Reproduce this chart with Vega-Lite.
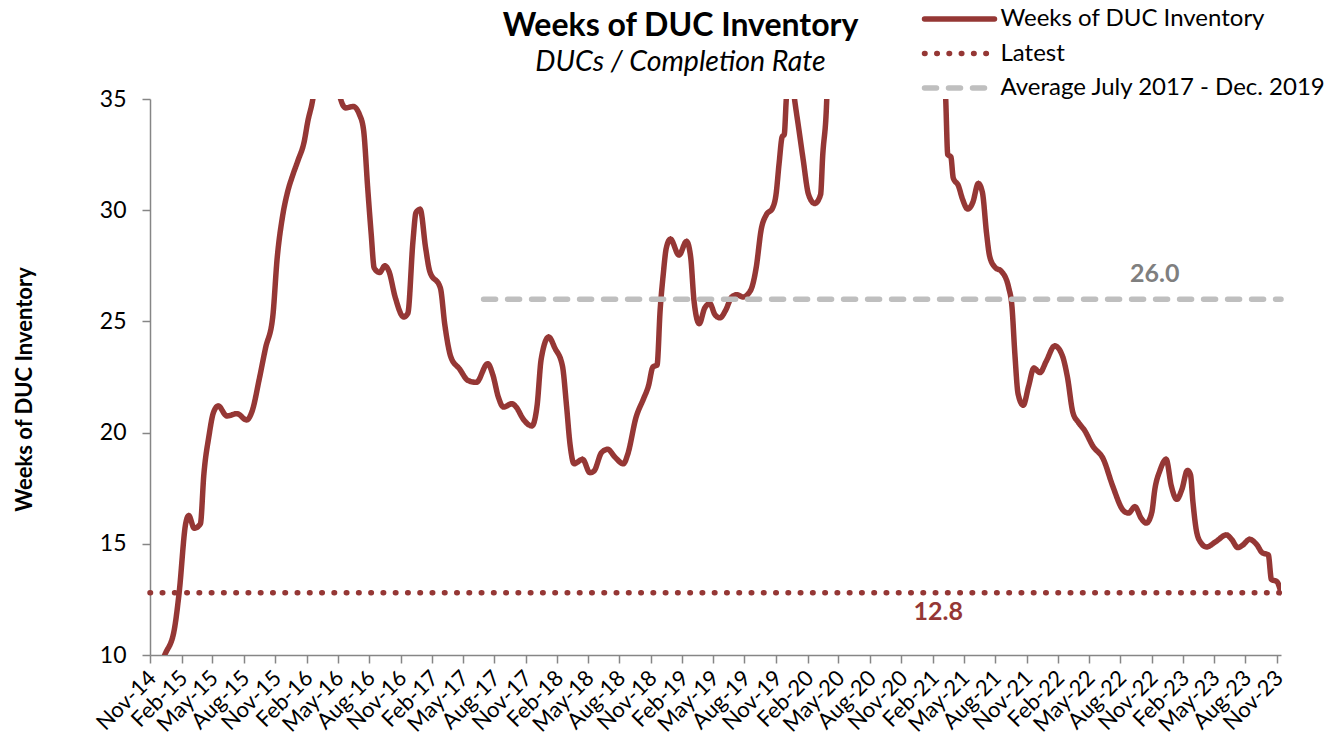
{
  "$schema": "https://vega.github.io/schema/vega-lite/v6.json",
  "width": 1131,
  "height": 556,
  "autosize": {"type": "none"},
  "padding": {"left": 150, "top": 99, "right": 48, "bottom": 96},
  "background": "white",
  "config": {
    "font": "Lato",
    "view": {"stroke": null},
    "legend": {
      "title": null,
      "orient": "none",
      "legendX": 795,
      "legendY": -94.5,
      "direction": "vertical",
      "symbolType": "M-3,0H3",
      "symbolSize": 544,
      "symbolStrokeWidth": 5.5,
      "labelFont": "Lato",
      "labelFontSize": 24,
      "labelColor": "black",
      "labelOffset": 26.5,
      "labelLimit": 500,
      "rowPadding": 7.5,
      "padding": 0
    }
  },
  "title": {
    "text": "Weeks of DUC Inventory",
    "subtitle": "DUCs / Completion Rate",
    "font": "Lato",
    "subtitleFont": "Lato",
    "fontSize": 32,
    "fontWeight": "bold",
    "subtitleFontSize": 28.5,
    "subtitleFontStyle": "italic",
    "color": "black",
    "subtitleColor": "black",
    "anchor": "middle",
    "frame": "group",
    "dx": -35,
    "offset": -73,
    "subtitlePadding": 5
  },
  "datasets": {
    "duc": [
      {"date": "2014-11-01", "weeks": 8.3},
      {"date": "2014-11-22", "weeks": 9.1},
      {"date": "2014-12-14", "weeks": 10.0},
      {"date": "2015-01-10", "weeks": 11.07},
      {"date": "2015-01-25", "weeks": 12.8},
      {"date": "2015-02-13", "weeks": 15.9},
      {"date": "2015-02-22", "weeks": 16.27},
      {"date": "2015-03-10", "weeks": 15.7},
      {"date": "2015-03-28", "weeks": 15.9},
      {"date": "2015-04-07", "weeks": 18.1},
      {"date": "2015-04-22", "weeks": 19.85},
      {"date": "2015-05-05", "weeks": 20.9},
      {"date": "2015-05-19", "weeks": 21.2},
      {"date": "2015-06-13", "weeks": 20.75},
      {"date": "2015-07-13", "weeks": 20.85},
      {"date": "2015-08-10", "weeks": 20.57},
      {"date": "2015-08-26", "weeks": 20.97},
      {"date": "2015-09-16", "weeks": 22.43},
      {"date": "2015-10-04", "weeks": 23.8},
      {"date": "2015-10-25", "weeks": 25.2},
      {"date": "2015-11-07", "weeks": 27.85},
      {"date": "2015-11-22", "weeks": 29.66},
      {"date": "2015-12-07", "weeks": 30.8},
      {"date": "2015-12-22", "weeks": 31.56},
      {"date": "2016-01-07", "weeks": 32.25},
      {"date": "2016-01-25", "weeks": 33.1},
      {"date": "2016-02-04", "weeks": 33.97},
      {"date": "2016-02-19", "weeks": 35.0},
      {"date": "2016-03-10", "weeks": 37.5},
      {"date": "2016-04-07", "weeks": 38.5},
      {"date": "2016-04-28", "weeks": 36.5},
      {"date": "2016-05-10", "weeks": 35.0},
      {"date": "2016-05-25", "weeks": 34.6},
      {"date": "2016-06-16", "weeks": 34.66},
      {"date": "2016-07-04", "weeks": 34.3},
      {"date": "2016-07-16", "weeks": 33.6},
      {"date": "2016-07-28", "weeks": 31.0},
      {"date": "2016-08-07", "weeks": 28.97},
      {"date": "2016-08-16", "weeks": 27.4},
      {"date": "2016-09-01", "weeks": 27.2},
      {"date": "2016-09-16", "weeks": 27.5},
      {"date": "2016-09-28", "weeks": 27.25},
      {"date": "2016-10-16", "weeks": 26.1},
      {"date": "2016-11-10", "weeks": 25.2},
      {"date": "2016-11-22", "weeks": 25.36},
      {"date": "2016-12-07", "weeks": 28.6},
      {"date": "2016-12-16", "weeks": 29.9},
      {"date": "2016-12-28", "weeks": 30.04},
      {"date": "2017-01-13", "weeks": 28.3},
      {"date": "2017-01-25", "weeks": 27.25},
      {"date": "2017-02-25", "weeks": 26.5},
      {"date": "2017-03-10", "weeks": 24.84},
      {"date": "2017-03-28", "weeks": 23.38},
      {"date": "2017-04-22", "weeks": 22.86},
      {"date": "2017-05-16", "weeks": 22.35},
      {"date": "2017-06-10", "weeks": 22.26},
      {"date": "2017-07-13", "weeks": 23.1},
      {"date": "2017-07-28", "weeks": 22.6},
      {"date": "2017-08-13", "weeks": 21.6},
      {"date": "2017-08-28", "weeks": 21.15},
      {"date": "2017-09-22", "weeks": 21.3},
      {"date": "2017-10-04", "weeks": 21.15},
      {"date": "2017-10-25", "weeks": 20.6},
      {"date": "2017-11-19", "weeks": 20.3},
      {"date": "2017-12-04", "weeks": 21.2},
      {"date": "2017-12-16", "weeks": 23.3},
      {"date": "2018-01-07", "weeks": 24.3},
      {"date": "2018-01-25", "weeks": 23.8},
      {"date": "2018-02-16", "weeks": 23.0},
      {"date": "2018-02-28", "weeks": 21.2},
      {"date": "2018-03-10", "weeks": 19.5},
      {"date": "2018-03-22", "weeks": 18.6},
      {"date": "2018-04-16", "weeks": 18.8},
      {"date": "2018-05-07", "weeks": 18.2},
      {"date": "2018-05-19", "weeks": 18.27},
      {"date": "2018-06-10", "weeks": 19.1},
      {"date": "2018-06-28", "weeks": 19.25},
      {"date": "2018-07-19", "weeks": 18.9},
      {"date": "2018-08-13", "weeks": 18.6},
      {"date": "2018-08-25", "weeks": 19.0},
      {"date": "2018-09-19", "weeks": 20.7},
      {"date": "2018-10-10", "weeks": 21.5},
      {"date": "2018-10-25", "weeks": 22.1},
      {"date": "2018-11-07", "weeks": 22.95},
      {"date": "2018-11-19", "weeks": 23.04},
      {"date": "2018-11-28", "weeks": 25.5},
      {"date": "2018-12-07", "weeks": 27.1},
      {"date": "2018-12-16", "weeks": 28.3},
      {"date": "2018-12-28", "weeks": 28.7},
      {"date": "2019-01-22", "weeks": 27.98},
      {"date": "2019-02-13", "weeks": 28.6},
      {"date": "2019-02-25", "weeks": 27.9},
      {"date": "2019-03-07", "weeks": 25.9},
      {"date": "2019-03-22", "weeks": 24.9},
      {"date": "2019-04-07", "weeks": 25.6},
      {"date": "2019-04-22", "weeks": 25.8},
      {"date": "2019-05-07", "weeks": 25.3},
      {"date": "2019-05-22", "weeks": 25.16},
      {"date": "2019-06-07", "weeks": 25.5},
      {"date": "2019-06-25", "weeks": 26.1},
      {"date": "2019-07-10", "weeks": 26.2},
      {"date": "2019-07-28", "weeks": 26.1},
      {"date": "2019-08-19", "weeks": 26.4},
      {"date": "2019-09-04", "weeks": 27.4},
      {"date": "2019-09-19", "weeks": 29.15},
      {"date": "2019-10-04", "weeks": 29.8},
      {"date": "2019-10-22", "weeks": 30.1},
      {"date": "2019-11-01", "weeks": 30.7},
      {"date": "2019-11-10", "weeks": 32.1},
      {"date": "2019-11-19", "weeks": 33.3},
      {"date": "2019-11-25", "weeks": 33.4},
      {"date": "2019-12-01", "weeks": 35.0},
      {"date": "2019-12-13", "weeks": 36.5},
      {"date": "2019-12-25", "weeks": 35.0},
      {"date": "2020-01-07", "weeks": 33.6},
      {"date": "2020-01-19", "weeks": 32.3},
      {"date": "2020-02-04", "weeks": 30.7},
      {"date": "2020-02-22", "weeks": 30.3},
      {"date": "2020-03-10", "weeks": 30.7},
      {"date": "2020-03-16", "weeks": 32.4},
      {"date": "2020-03-28", "weeks": 35.0},
      {"date": "2020-04-10", "weeks": 45.0},
      {"date": "2020-05-01", "weeks": 60.0},
      {"date": "2020-07-01", "weeks": 75.0},
      {"date": "2020-09-01", "weeks": 70.0},
      {"date": "2020-11-01", "weeks": 60.0},
      {"date": "2021-01-01", "weeks": 50.0},
      {"date": "2021-02-16", "weeks": 42.0},
      {"date": "2021-03-01", "weeks": 38.0},
      {"date": "2021-03-10", "weeks": 35.0},
      {"date": "2021-03-16", "weeks": 32.5},
      {"date": "2021-03-25", "weeks": 32.4},
      {"date": "2021-04-01", "weeks": 31.45},
      {"date": "2021-04-16", "weeks": 31.1},
      {"date": "2021-04-28", "weeks": 30.5},
      {"date": "2021-05-13", "weeks": 30.05},
      {"date": "2021-05-28", "weeks": 30.35},
      {"date": "2021-06-13", "weeks": 31.2},
      {"date": "2021-06-25", "weeks": 30.8},
      {"date": "2021-07-07", "weeks": 28.98},
      {"date": "2021-07-16", "weeks": 27.94},
      {"date": "2021-08-01", "weeks": 27.43},
      {"date": "2021-08-19", "weeks": 27.26},
      {"date": "2021-09-10", "weeks": 26.5},
      {"date": "2021-09-19", "weeks": 25.7},
      {"date": "2021-09-28", "weeks": 23.47},
      {"date": "2021-10-07", "weeks": 21.75},
      {"date": "2021-10-22", "weeks": 21.23},
      {"date": "2021-11-07", "weeks": 22.1},
      {"date": "2021-11-22", "weeks": 22.9},
      {"date": "2021-12-10", "weeks": 22.7},
      {"date": "2021-12-28", "weeks": 23.2},
      {"date": "2022-01-22", "weeks": 23.9},
      {"date": "2022-02-13", "weeks": 23.47},
      {"date": "2022-02-28", "weeks": 22.5},
      {"date": "2022-03-16", "weeks": 20.9},
      {"date": "2022-04-01", "weeks": 20.46},
      {"date": "2022-04-19", "weeks": 20.1},
      {"date": "2022-05-13", "weeks": 19.4},
      {"date": "2022-06-13", "weeks": 18.8},
      {"date": "2022-07-10", "weeks": 17.6},
      {"date": "2022-08-10", "weeks": 16.5},
      {"date": "2022-08-25", "weeks": 16.38},
      {"date": "2022-09-13", "weeks": 16.67},
      {"date": "2022-10-01", "weeks": 16.15},
      {"date": "2022-10-16", "weeks": 15.93},
      {"date": "2022-11-01", "weeks": 16.4},
      {"date": "2022-11-10", "weeks": 17.45},
      {"date": "2022-11-25", "weeks": 18.3},
      {"date": "2022-12-13", "weeks": 18.8},
      {"date": "2022-12-28", "weeks": 17.6},
      {"date": "2023-01-13", "weeks": 17.0},
      {"date": "2023-01-28", "weeks": 17.45},
      {"date": "2023-02-13", "weeks": 18.3},
      {"date": "2023-02-22", "weeks": 18.1},
      {"date": "2023-03-01", "weeks": 16.9},
      {"date": "2023-03-10", "weeks": 15.7},
      {"date": "2023-03-22", "weeks": 15.1},
      {"date": "2023-04-10", "weeks": 14.86},
      {"date": "2023-05-07", "weeks": 15.1},
      {"date": "2023-06-07", "weeks": 15.4},
      {"date": "2023-06-22", "weeks": 15.2},
      {"date": "2023-07-10", "weeks": 14.83},
      {"date": "2023-07-25", "weeks": 14.95},
      {"date": "2023-08-13", "weeks": 15.2},
      {"date": "2023-09-04", "weeks": 14.95},
      {"date": "2023-09-19", "weeks": 14.6},
      {"date": "2023-10-07", "weeks": 14.5},
      {"date": "2023-10-16", "weeks": 13.4},
      {"date": "2023-11-01", "weeks": 13.3},
      {"date": "2023-11-13", "weeks": 12.8}
    ],
    "refs": [
      {"series": "Latest", "start": "2014-11-01", "end": "2023-11-13", "value": 12.8, "label_date": "2021-02-16"},
      {"series": "Average July 2017 - Dec. 2019", "start": "2017-07-01", "end": "2023-11-13", "value": 26.0, "label_date": "2022-11-10"}
    ]
  },
  "encoding": {
    "x": {
      "type": "temporal",
      "scale": {
        "type": "utc",
        "domain": [
          {"year": 2014, "month": 11, "date": 1, "utc": true},
          {"year": 2023, "month": 11, "date": 13, "utc": true}
        ]
      },
      "axis": {
        "title": null,
        "grid": false,
        "format": "%b-%y",
        "labelAngle": -45,
        "labelFont": "Lato",
        "labelFontSize": 22,
        "labelColor": "black",
        "labelPadding": 4,
        "labelOffset": -5,
        "labelOverlap": false,
        "labelFlush": false,
        "domainColor": "#868686",
        "domainWidth": 1.5,
        "tickColor": "#868686",
        "tickWidth": 1.5,
        "tickSize": 8,
        "values": [
          {"year": 2014, "month": 11, "date": 1, "utc": true},
          {"year": 2015, "month": 2, "date": 1, "utc": true},
          {"year": 2015, "month": 5, "date": 1, "utc": true},
          {"year": 2015, "month": 8, "date": 1, "utc": true},
          {"year": 2015, "month": 11, "date": 1, "utc": true},
          {"year": 2016, "month": 2, "date": 1, "utc": true},
          {"year": 2016, "month": 5, "date": 1, "utc": true},
          {"year": 2016, "month": 8, "date": 1, "utc": true},
          {"year": 2016, "month": 11, "date": 1, "utc": true},
          {"year": 2017, "month": 2, "date": 1, "utc": true},
          {"year": 2017, "month": 5, "date": 1, "utc": true},
          {"year": 2017, "month": 8, "date": 1, "utc": true},
          {"year": 2017, "month": 11, "date": 1, "utc": true},
          {"year": 2018, "month": 2, "date": 1, "utc": true},
          {"year": 2018, "month": 5, "date": 1, "utc": true},
          {"year": 2018, "month": 8, "date": 1, "utc": true},
          {"year": 2018, "month": 11, "date": 1, "utc": true},
          {"year": 2019, "month": 2, "date": 1, "utc": true},
          {"year": 2019, "month": 5, "date": 1, "utc": true},
          {"year": 2019, "month": 8, "date": 1, "utc": true},
          {"year": 2019, "month": 11, "date": 1, "utc": true},
          {"year": 2020, "month": 2, "date": 1, "utc": true},
          {"year": 2020, "month": 5, "date": 1, "utc": true},
          {"year": 2020, "month": 8, "date": 1, "utc": true},
          {"year": 2020, "month": 11, "date": 1, "utc": true},
          {"year": 2021, "month": 2, "date": 1, "utc": true},
          {"year": 2021, "month": 5, "date": 1, "utc": true},
          {"year": 2021, "month": 8, "date": 1, "utc": true},
          {"year": 2021, "month": 11, "date": 1, "utc": true},
          {"year": 2022, "month": 2, "date": 1, "utc": true},
          {"year": 2022, "month": 5, "date": 1, "utc": true},
          {"year": 2022, "month": 8, "date": 1, "utc": true},
          {"year": 2022, "month": 11, "date": 1, "utc": true},
          {"year": 2023, "month": 2, "date": 1, "utc": true},
          {"year": 2023, "month": 5, "date": 1, "utc": true},
          {"year": 2023, "month": 8, "date": 1, "utc": true},
          {"year": 2023, "month": 11, "date": 1, "utc": true}
        ]
      }
    },
    "y": {
      "type": "quantitative",
      "scale": {"domain": [10, 35], "nice": false, "zero": false},
      "axis": {
        "values": [10, 15, 20, 25, 30, 35],
        "grid": false,
        "title": "Weeks of DUC Inventory",
        "titleFont": "Lato",
        "titleFontSize": 22,
        "titleFontWeight": "bold",
        "titleColor": "black",
        "titleAngle": -90,
        "titleX": -126,
        "titleY": 290,
        "titleAlign": "center",
        "titleBaseline": "middle",
        "labelFont": "Lato",
        "labelFontSize": 23,
        "labelColor": "black",
        "labelPadding": 16,
        "domainColor": "#868686",
        "domainWidth": 1.5,
        "tickColor": "#868686",
        "tickWidth": 1.5,
        "tickSize": 8
      }
    }
  },
  "layer": [
    {
      "data": {"name": "duc"},
      "mark": {"type": "line", "interpolate": "monotone", "strokeWidth": 5.5, "strokeCap": "round", "strokeJoin": "round", "clip": true},
      "encoding": {
        "x": {"field": "date", "type": "temporal"},
        "y": {"field": "weeks", "type": "quantitative"},
        "color": {
          "datum": "Weeks of DUC Inventory",
          "type": "nominal",
          "scale": {
            "domain": ["Weeks of DUC Inventory", "Latest", "Average July 2017 - Dec. 2019"],
            "range": ["#953735", "#953735", "#BFBFBF"]
          },
          "legend": {"encode": {"symbols": {"update": {"strokeCap": {"value": "round"}}}}}
        },
        "strokeDash": {
          "datum": "Weeks of DUC Inventory",
          "type": "nominal",
          "scale": {
            "domain": ["Weeks of DUC Inventory", "Latest", "Average July 2017 - Dec. 2019"],
            "range": [[1, 0], [0.5, 11.77], [12, 12]]
          },
          "legend": {"encode": {"symbols": {"update": {"strokeCap": {"value": "round"}}}}}
        }
      }
    },
    {
      "data": {"name": "refs"},
      "mark": {"type": "rule", "strokeWidth": 5.5, "strokeCap": "round"},
      "encoding": {
        "x": {"field": "start", "type": "temporal"},
        "x2": {"field": "end"},
        "y": {"field": "value", "type": "quantitative"},
        "color": {"field": "series", "type": "nominal"},
        "strokeDash": {"field": "series", "type": "nominal"}
      }
    },
    {
      "data": {"name": "refs"},
      "transform": [{"filter": "datum.series === 'Latest'"}],
      "mark": {"type": "text", "font": "Lato", "fontSize": 25, "fontWeight": "bold", "color": "#953735", "align": "center", "baseline": "middle", "dy": 19},
      "encoding": {
        "x": {"field": "label_date", "type": "temporal"},
        "y": {"field": "value", "type": "quantitative"},
        "text": {"field": "value", "type": "quantitative", "format": ".1f"}
      }
    },
    {
      "data": {"name": "refs"},
      "transform": [{"filter": "datum.series !== 'Latest'"}],
      "mark": {"type": "text", "font": "Lato", "fontSize": 25, "fontWeight": "bold", "color": "#7F7F7F", "align": "center", "baseline": "middle", "dy": -25},
      "encoding": {
        "x": {"field": "label_date", "type": "temporal"},
        "y": {"field": "value", "type": "quantitative"},
        "text": {"field": "value", "type": "quantitative", "format": ".1f"}
      }
    }
  ]
}
